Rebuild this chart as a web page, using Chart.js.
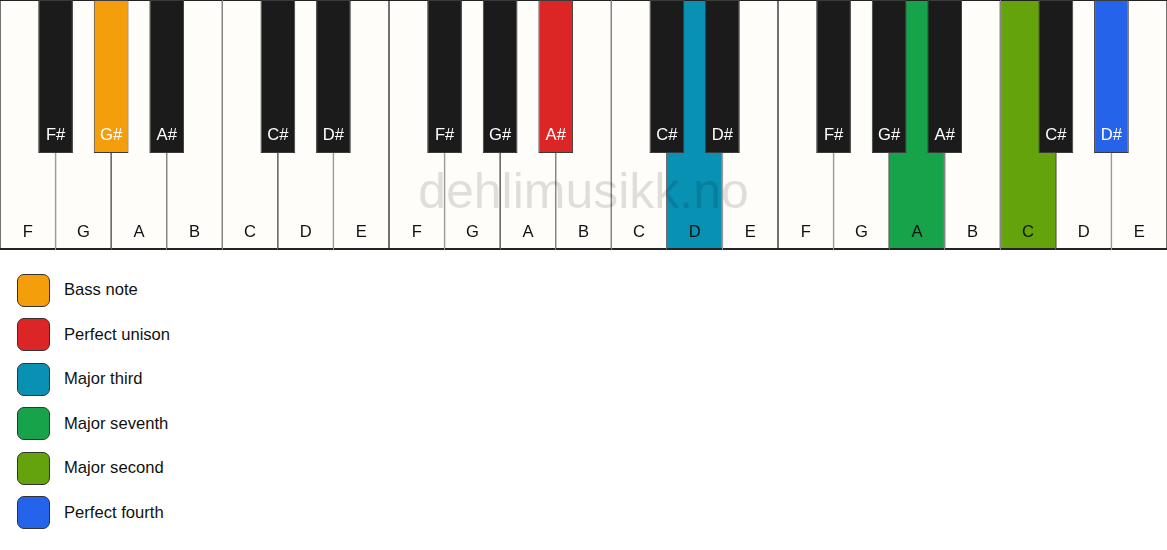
<!DOCTYPE html>
<html>
<head>
<meta charset="utf-8">
<script src="https://cdn.jsdelivr.net/npm/chart.js@4"></script>
<style>
  body { margin: 0; background: #ffffff; font-family: "Liberation Sans", Arial, sans-serif; }
  #keys { position: relative; width: 1167px; height: 250px; }
  #legend { padding: 18px 0 0 17px; }
  .row { display: flex; align-items: center; height: 44.5px; }
  .swatch { width: 33px; height: 33px; box-sizing: border-box; border: 1.5px solid #333; border-radius: 7px; }
  .label { margin-left: 14px; font-size: 16.6px; color: #111; }
</style>
</head>
<body>
<div id="keys"><canvas id="pianoChart"></canvas></div>
<div id="legend"></div>
<script>
// keyboard: three groups F..E
const whiteNotes = ['F', 'G', 'A', 'B', 'C', 'D', 'E'];
const blackNotes = ['F#', 'G#', 'A#', 'C#', 'D#'];
const blackAfterWhite = [0, 1, 2, 4, 5]; // black key sits right of these white keys
const octaves = 3;

// highlighted notes and their interval names
const intervalNames = ['Bass note', 'Perfect unison', 'Major third', 'Major seventh', 'Major second', 'Perfect fourth'];
const intervalColors = ['#f59e0b', '#dc2626', '#0891b2', '#16a34a', '#65a30d', '#2563eb'];
const intervalNotes = ['G#', 'A#', 'D', 'A', 'C', 'D#'];
const intervalOctaves = [0, 1, 1, 2, 2, 2];

const WHITE_FILL = '#fefdfa';
const BLACK_FILL = '#1b1b1b';

function colorFor(note, oct, fallback) {
    for (let i = 0; i < intervalNotes.length; i++) {
        if (intervalNotes[i] === note && intervalOctaves[i] === oct) return intervalColors[i];
    }
    return fallback;
}

const whiteKeys = [], whiteLabels = [], whiteColors = [];
const blackKeys = [], blackLabels = [], blackColors = [];
for (let o = 0; o < octaves; o++) {
    whiteNotes.forEach((n, i) => {
        whiteKeys.push({ x: o * 7 + i + 0.5, y: [0, 100] });
        whiteLabels.push(n);
        whiteColors.push(colorFor(n, o, WHITE_FILL));
    });
    blackNotes.forEach((n, i) => {
        blackKeys.push({ x: o * 7 + blackAfterWhite[i] + 1, y: [38.8, 100] });
        blackLabels.push(n);
        blackColors.push(colorFor(n, o, BLACK_FILL));
    });
}

// note names + watermark drawn on top of the keys
const keyText = {
    id: 'keyText',
    afterDatasetsDraw(chart) {
        const ctx = chart.ctx;
        const xs = chart.scales.x, ys = chart.scales.y;
        ctx.save();
        ctx.font = '50px "Liberation Sans", Arial, sans-serif';
        ctx.fillStyle = 'rgba(0, 0, 0, 0.12)';
        ctx.textAlign = 'center';
        ctx.textBaseline = 'alphabetic';
        ctx.fillText('dehlimusikk.no', xs.getPixelForValue(10.5), ys.getPixelForValue(16.8));

        ctx.font = '16.6px "Liberation Sans", Arial, sans-serif';
        ctx.textBaseline = 'middle';
        const lists = [[whiteLabels, '#111111', 7.2], [blackLabels, '#ffffff', 46]];
        chart.data.datasets.forEach((ds, di) => {
            const meta = chart.getDatasetMeta(di);
            const [labels, color, yv] = lists[di];
            ctx.fillStyle = color;
            meta.data.forEach((bar, i) => {
                ctx.fillText(labels[i], bar.x, ys.getPixelForValue(yv));
            });
        });
        ctx.restore();
    }
};

new Chart(document.getElementById('pianoChart'), {
    type: 'bar',
    data: {
        datasets: [{
            label: 'white',
            data: whiteKeys,
            backgroundColor: whiteColors,
            borderColor: '#222222',
            borderWidth: { left: 0.8, right: 0.8, top: 1, bottom: 2 },
            borderSkipped: false,
            categoryPercentage: 1,
            barPercentage: 2,
            grouped: false,
            order: 2
        }, {
            label: 'black',
            data: blackKeys,
            backgroundColor: blackColors,
            borderColor: '#3a3a3a',
            borderWidth: 1,
            borderSkipped: false,
            categoryPercentage: 1,
            barPercentage: 1.25,
            grouped: false,
            order: 1
        }]
    },
    options: {
        responsive: true,
        maintainAspectRatio: false,
        animation: false,
        layout: { padding: 0 },
        plugins: {
            legend: { display: false },
            tooltip: { enabled: false }
        },
        scales: {
            x: { type: 'linear', min: 0, max: 21, offset: false, display: false, ticks: { stepSize: 1 } },
            y: { min: 0, max: 100, display: false }
        }
    },
    plugins: [keyText]
});

// legend list
const legend = document.getElementById('legend');
intervalNames.forEach((name, i) => {
    const row = document.createElement('div');
    row.className = 'row';
    row.innerHTML = '<div class="swatch" style="background:' + intervalColors[i] + '"></div><span class="label">' + name + '</span>';
    legend.appendChild(row);
});
</script>
</body>
</html>
